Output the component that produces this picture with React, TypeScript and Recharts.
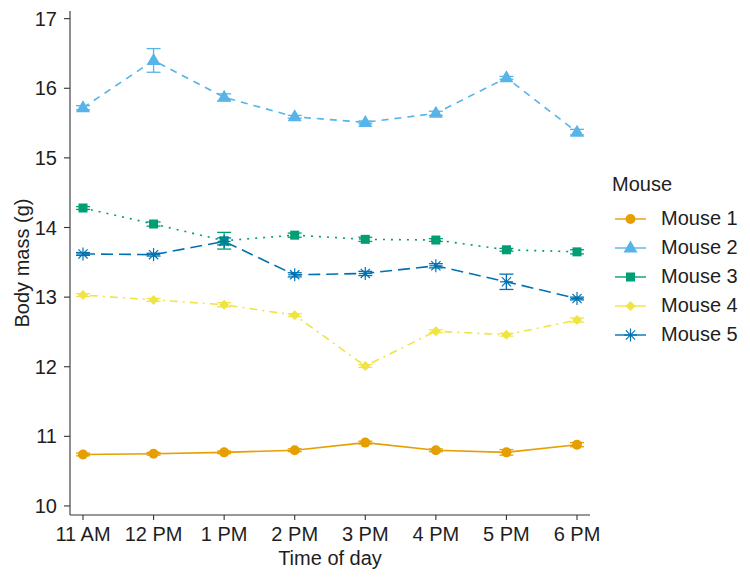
import React from 'react';
import { LineChart, Line, XAxis, YAxis, ErrorBar } from 'recharts';

const times = ['11 AM', '12 PM', '1 PM', '2 PM', '3 PM', '4 PM', '5 PM', '6 PM'];

const mouse1 = [10.74, 10.75, 10.77, 10.8, 10.91, 10.8, 10.77, 10.88];
const mouse1Err = [0.02, 0.02, 0.02, 0.02, 0.02, 0.02, 0.04, 0.03];
const mouse2 = [15.72, 16.4, 15.87, 15.59, 15.51, 15.64, 16.15, 15.37];
const mouse2Err = [0.03, 0.17, 0.05, 0.02, 0.02, 0.03, 0.02, 0.04];
const mouse3 = [14.28, 14.05, 13.81, 13.89, 13.83, 13.82, 13.68, 13.65];
const mouse3Err = [0.02, 0.03, 0.12, 0.03, 0.03, 0.02, 0.02, 0.03];
const mouse4 = [13.03, 12.96, 12.89, 12.74, 12.01, 12.51, 12.46, 12.67];
const mouse4Err = [0.02, 0.02, 0.03, 0.02, 0.02, 0.02, 0.02, 0.03];
const mouse5 = [13.62, 13.61, 13.8, 13.32, 13.34, 13.45, 13.22, 12.98];
const mouse5Err = [0.02, 0.02, 0.05, 0.03, 0.03, 0.03, 0.11, 0.02];

const yTicks = [10, 11, 12, 13, 14, 15, 16, 17];

type Shape = 'circle' | 'triangle' | 'square' | 'diamond' | 'asterisk';

const series: { key: string; name: string; color: string; dash?: string; shape: Shape }[] = [
  { key: 'm1', name: 'Mouse 1', color: '#E69F00', shape: 'circle' },
  { key: 'm2', name: 'Mouse 2', color: '#56B4E9', dash: '7 6', shape: 'triangle' },
  { key: 'm3', name: 'Mouse 3', color: '#009E73', dash: '2 6', shape: 'square' },
  { key: 'm4', name: 'Mouse 4', color: '#F0E442', dash: '2 5 8 5', shape: 'diamond' },
  { key: 'm5', name: 'Mouse 5', color: '#0072B2', dash: '12 6', shape: 'asterisk' },
];

const data = times.map((time, i) => ({
  time,
  m1: mouse1[i], m1Err: mouse1Err[i],
  m2: mouse2[i], m2Err: mouse2Err[i],
  m3: mouse3[i], m3Err: mouse3Err[i],
  m4: mouse4[i], m4Err: mouse4Err[i],
  m5: mouse5[i], m5Err: mouse5Err[i],
}));

const FONT = '"Liberation Sans", Arial, sans-serif';
const AXIS = '#333333';
const TEXT = '#1e1e1e';
const FS = 20;

function Marker({ shape, cx, cy, color }: { shape: Shape; cx: number; cy: number; color: string }) {
  switch (shape) {
    case 'circle':
      return <circle cx={cx} cy={cy} r={5} fill={color} />;
    case 'triangle':
      return <polygon points={`${cx},${cy - 7.5} ${cx - 7},${cy + 4.5} ${cx + 7},${cy + 4.5}`} fill={color} />;
    case 'square':
      return <rect x={cx - 4.5} y={cy - 4.5} width={9} height={9} fill={color} />;
    case 'diamond':
      return <polygon points={`${cx},${cy - 5} ${cx + 5},${cy} ${cx},${cy + 5} ${cx - 5},${cy}`} fill={color} />;
    case 'asterisk': {
      const r = 6.5;
      const d = r * Math.SQRT1_2;
      return (
        <g stroke={color} strokeWidth={1.2}>
          <line x1={cx - r} y1={cy} x2={cx + r} y2={cy} />
          <line x1={cx} y1={cy - r} x2={cx} y2={cy + r} />
          <line x1={cx - d} y1={cy - d} x2={cx + d} y2={cy + d} />
          <line x1={cx - d} y1={cy + d} x2={cx + d} y2={cy - d} />
        </g>
      );
    }
  }
  return null;
}

// legend sits to the right of the panel, outside the chart's own layout
const MouseLegend = () => (
  <div style={{ position: 'absolute', left: 612, top: 172, fontFamily: FONT, color: TEXT }}>
    <div style={{ fontSize: FS, height: 24, lineHeight: '24px', marginBottom: 8 }}>Mouse</div>
    {series.map((s) => (
      <div key={s.key} style={{ display: 'flex', alignItems: 'center', height: 29 }}>
        <svg width={40} height={20} style={{ display: 'block' }}>
          <line x1={3} y1={10} x2={34} y2={10} stroke={s.color} strokeWidth={1.4} />
          <Marker shape={s.shape} cx={18.5} cy={10} color={s.color} />
        </svg>
        <span style={{ fontSize: FS, marginLeft: 9 }}>{s.name}</span>
      </div>
    ))}
  </div>
);

export default function App() {
  return (
    <div style={{ position: 'absolute', left: 0, top: 0, width: 750, height: 580, background: '#fff' }}>
      <LineChart
        width={750}
        height={580}
        data={data}
        margin={{ top: 11, right: 160, bottom: 5, left: 20 }}
        style={{ fontFamily: FONT }}
      >
        <XAxis
          dataKey="time"
          interval={0}
          height={60}
          padding={{ left: 13, right: 13 }}
          tickSize={5}
          tickMargin={7}
          axisLine={{ stroke: AXIS, strokeWidth: 1.1 }}
          tickLine={{ stroke: AXIS, strokeWidth: 1.1 }}
          tick={{ fill: TEXT, fontSize: FS }}
          label={{ value: 'Time of day', position: 'insideBottom', offset: 10, fill: TEXT, fontSize: FS }}
        />
        <YAxis
          type="number"
          width={50}
          domain={[9.87, 17.11]}
          ticks={yTicks}
          allowDataOverflow
          tickSize={6}
          tickMargin={7}
          axisLine={{ stroke: AXIS, strokeWidth: 1.1 }}
          tickLine={{ stroke: AXIS, strokeWidth: 1.1 }}
          tick={{ fill: TEXT, fontSize: FS }}
          label={{
            value: 'Body mass (g)',
            angle: -90,
            position: 'insideLeft',
            offset: 2,
            fill: TEXT,
            fontSize: FS,
            style: { textAnchor: 'middle' },
          }}
        />
        {series.map((s) => (
          <Line
            key={s.key}
            dataKey={s.key}
            name={s.name}
            type="linear"
            stroke={s.color}
            strokeWidth={1.6}
            strokeDasharray={s.dash}
            isAnimationActive={false}
            activeDot={false}
            dot={(p: any) => (
              <Marker key={`${s.key}-dot-${p.index}`} shape={s.shape} cx={p.cx} cy={p.cy} color={s.color} />
            )}
          >
            {/* width here is the half-length of each cap */}
            <ErrorBar
              dataKey={`${s.key}Err`}
              direction="y"
              width={7}
              stroke={s.color}
              strokeWidth={1.3}
              isAnimationActive={false}
            />
          </Line>
        ))}
      </LineChart>
      <MouseLegend />
    </div>
  );
}
